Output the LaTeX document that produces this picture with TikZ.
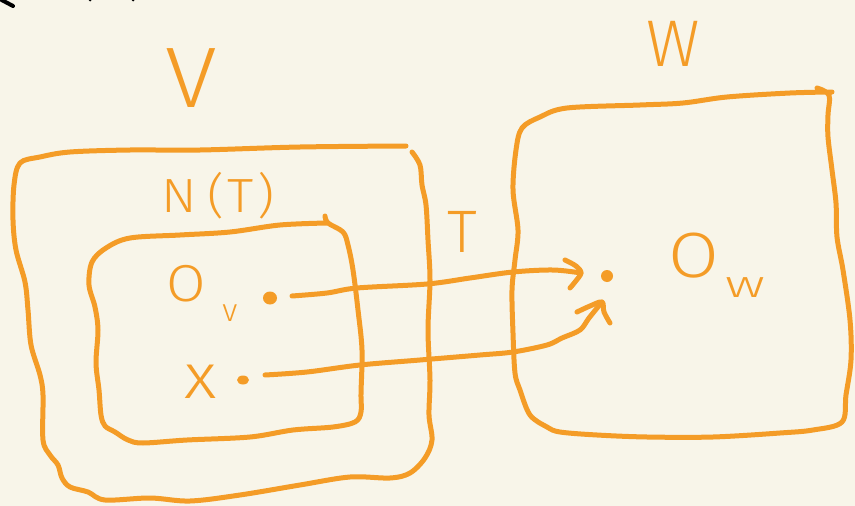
\documentclass[tikz,border=0pt]{standalone}
\usepackage{fontspec}
\setsansfont{Fira Sans}[UprightFont=* Light]
\definecolor{ink}{HTML}{F49C27}
\definecolor{paper}{HTML}{F8F5E9}
\newcommand{\fs}[1]{\fontsize{#1}{#1}\selectfont}
\begin{document}
\begin{tikzpicture}[x=1pt,y=-1pt,line cap=round,line join=round,
  pen/.style={draw=ink,line width=5pt},
  curve/.style={pen,smooth,tension=0.55},
  lbl/.style={text=ink,inner sep=0pt,font=\sffamily},
  blob/.style={fill=ink}]
\fill[paper] (0,0) rectangle (855,506);
\useasboundingbox (0,0) rectangle (855,506);

% stray ink at the top edge
\draw[black,line width=4pt] (-2,-2) -- (13,6);
\fill[black] (90,0) circle (1.5);
\fill[black] (133,0) circle (1.5);

% space V
\draw[curve] plot coordinates {(406,146) (300,147) (200,150) (130,150) (70,152)
  (40,157) (20,163) (14,185) (13,220) (16,250) (25,282) (28,310) (31,345)
  (40,375) (43,395) (43,440) (50,455) (58,465) (62,478) (70,487) (88,492)
  (105,500) (150,498) (190,501) (240,495) (300,485) (350,477) (390,478)
  (410,473) (425,458) (432,440) (429,415) (430,380) (428,330) (430,280)
  (428,240) (426,205) (422,185) (420,165) (412,152)};

% neighbourhood N(T)
\draw[curve] plot coordinates {(325,216) (328,223) (343,232) (348,245) (353,270)
  (358,310) (362,350) (361,393) (361,412) (355,422) (333,427) (293,430)
  (250,437) (187,440) (143,443) (128,440) (115,432) (105,426) (101,415)
  (99,390) (96,363) (98,330) (95,307) (89,285) (92,262) (106,248) (130,238)
  (180,235) (230,232) (280,225) (327,223)};

% space W
\draw[curve] plot coordinates {(817,88) (829,95) (828,115) (828,137) (832,170)
  (836,203) (837,237) (843,270) (850,320) (851,360) (846,395) (842,422)
  (813,430) (780,433) (713,437) (647,437) (597,435) (560,432) (547,427)
  (530,415) (520,390) (515,373) (513,333) (512,290) (515,260) (518,230)
  (513,190) (516,150) (522,128) (540,117) (567,108) (640,105) (683,103)
  (727,97) (790,93) (832,92)};

% labels
\node[lbl,font=\sffamily\fs{86},xscale=1.1] (lV) at (191,78) {V};
\node[lbl,font=\sffamily\fs{66}] (lW) at (673,44) {W};
\node[lbl,font=\sffamily\fs{48},xscale=1.1] (lN) at (218,196) {N\kern9pt(\kern3pt T\kern3pt)};
\node[lbl,font=\sffamily\fs{60}] (lT) at (462,232) {T};
\node[lbl,font=\sffamily\fs{52},xscale=1.1] (lOv) at (186,284) {O};
\node[lbl,font=\sffamily\fs{32}] (lv) at (230,313) {v};
\node[lbl,font=\sffamily\fs{64},xscale=1.1] (lx) at (201,382) {x};
\node[lbl,font=\sffamily\fs{64},xscale=1.15] (lOw) at (694,256) {O};
\node[lbl,font=\sffamily\fs{38},xscale=1.5] (lw) at (745,288) {w};

% points
\fill[blob] (270,298) ellipse (7 and 6.5);
\coordinate (pv) at (270,298);
\fill[blob] (243,380) ellipse (6 and 4.5);
\coordinate (px) at (243,380);
\fill[blob] (607,276) circle (6);
\coordinate (pw) at (607,276);

% the map T
\coordinate (a1) at (292,296);
\coordinate (t1) at (581,273);
\draw[curve] plot coordinates {(a1) (327,293) (357,288) (427,284) (470,278)
  (513,272) (553,270) (t1)};
\draw[curve] plot coordinates {(565,260) (576,266) (t1) (575,282) (570,288)};

\coordinate (a2) at (265,375);
\coordinate (t2) at (602,302);
\draw[curve] plot coordinates {(a2) (307,372) (360,365) (420,360) (480,355)
  (513,352) (547,345) (562,338) (580,330) (589,318) (t2)};
\draw[curve] plot coordinates {(577,312) (590,306) (t2) (604,312) (610,323)};
\end{tikzpicture}
\end{document}
